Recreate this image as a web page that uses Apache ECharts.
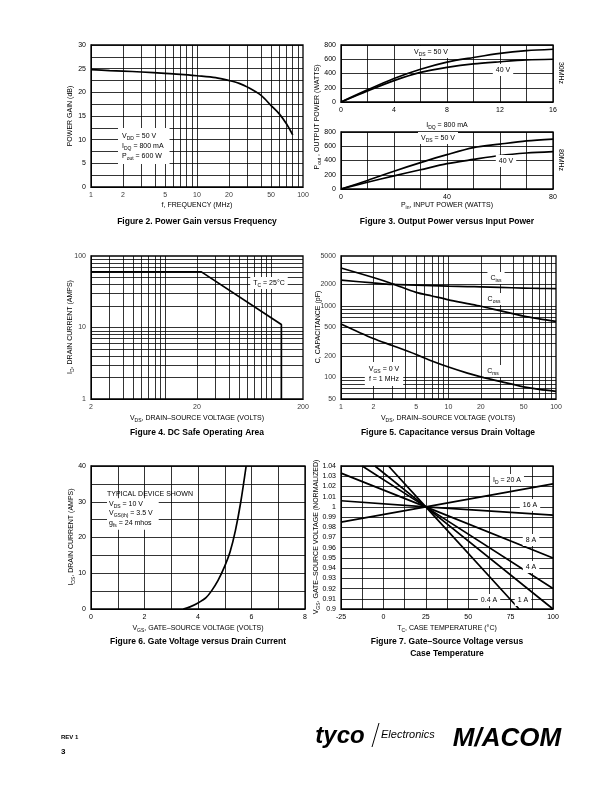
<!DOCTYPE html>
<html><head><meta charset="utf-8">
<script src="https://cdn.jsdelivr.net/npm/echarts@6/dist/echarts.min.js"></script>
<style>html,body{margin:0;padding:0;background:#fff}#c{width:612px;height:792px}</style>
</head><body><div id="c"></div>
<script>
// ---------- DATA ----------
// Figure 2: Power gain vs frequency
const fig2Freq = [1, 1.5, 2, 3, 5, 7, 10, 15, 20, 25, 30, 40, 50, 60, 70, 80];
const fig2Gain = [24.8, 24.6, 24.5, 24.3, 24.0, 23.8, 23.5, 23.1, 22.5, 21.9, 21.1, 19.4, 17.2, 15.4, 13.3, 11.0];
const fig2XLabels = [1, 2, 5, 10, 20, 50, 100];
const fig2XGrid = [2, 3, 4, 5, 6, 7, 8, 9, 10, 20, 30, 40, 50, 60, 70, 80, 90];

// Figure 3: Output power vs input power
const fig3Pin30 = [0, 2, 4, 6, 8, 10, 12, 14, 16];
const fig3Pout30V50 = [0, 170, 330, 460, 560, 625, 683, 720, 740];
const fig3Pout30V40 = [0, 155, 300, 415, 485, 535, 565, 590, 600];
const fig3Pin80 = [0, 10, 20, 30, 40, 50, 60, 70, 80];
const fig3Pout80V50 = [0, 120, 250, 370, 482, 580, 630, 675, 700];
const fig3Pout80V40 = [0, 95, 185, 270, 355, 415, 470, 505, 525];

// Figure 4: DC safe operating area
const fig4Vds = [2, 22, 125, 125];
const fig4Id = [60, 60, 11, 1];
const fig4XLabels = [2, 20, 200];
const fig4YLabels = [1, 10, 100];
const fig4XGrid = [3, 4, 5, 6, 7, 8, 9, 10, 20, 30, 40, 50, 60, 70, 80, 90, 100];
const fig4YGrid = [2, 3, 4, 5, 6, 7, 8, 9, 10, 20, 30, 40, 50, 60, 70, 80, 90];

// Figure 5: Capacitance vs drain voltage
const fig5Vds = [1, 2, 3, 5, 7, 10, 15, 20, 30, 50, 70, 100];
const fig5Ciss = [2300, 2100, 2000, 1960, 1930, 1900, 1870, 1850, 1820, 1780, 1760, 1750];
const fig5Coss = [3400, 2500, 2050, 1550, 1380, 1220, 1080, 990, 860, 720, 660, 610];
const fig5Crss = [560, 350, 280, 210, 170, 140, 115, 102, 88, 74, 68, 64];
const fig5XLabels = [1, 2, 5, 10, 20, 50, 100];
const fig5YLabels = [50, 100, 200, 500, 1000, 2000, 5000];
const fig5XGrid = [2, 3, 4, 5, 6, 7, 8, 9, 10, 20, 30, 40, 50, 60, 70, 80, 90];
const fig5YGrid = [60, 70, 80, 90, 100, 200, 300, 400, 500, 600, 700, 800, 900, 1000, 2000, 3000, 4000];

// Figure 6: Gate voltage vs drain current
const fig6Vgs = [3.45, 3.7, 4.0, 4.3, 4.5, 4.75, 5.0, 5.2, 5.4, 5.6, 5.8];
const fig6Ids = [0, 0.6, 1.7, 3.2, 5, 8, 12, 16, 22, 30, 40];

// Figure 7: Gate-source voltage vs case temperature (normalized)
const fig7Names = ['20 A', '16 A', '8 A', '4 A', '1 A', '0.4 A'];
const fig7Temp = [[-25, 25, 100], [-25, 25, 100], [-25, 25, 100], [-12.5, 25, 100], [-5, 25, 100], [3, 25, 80]];
const fig7Vgs = [[0.985, 1.0, 1.0225], [1.006, 1.0, 0.992], [1.033, 1.0, 0.95], [1.04, 1.0, 0.92], [1.04, 1.0, 0.9], [1.04, 1.0, 0.9]];

// ---------- BUILD ----------
const FONT = "'Liberation Sans Narrow','Liberation Sans',Arial,sans-serif";
const FONTB = "'Liberation Sans',Arial,sans-serif";
const zip = (a, b) => a.map((v, i) => [v, b[i]]);

const grids = [
  {left: 91, top: 45, width: 212, height: 142},
  {left: 341, top: 45, width: 212, height: 57},
  {left: 341, top: 132, width: 212, height: 57},
  {left: 91, top: 256, width: 212, height: 143},
  {left: 341, top: 256, width: 215, height: 143},
  {left: 91, top: 466, width: 214, height: 143},
  {left: 341, top: 466, width: 212, height: 143}
].map(g => Object.assign({show: true, borderColor: '#000', borderWidth: 1.3, backgroundColor: 'transparent', containLabel: false}, g));

const lbl = {fontSize: 7, color: '#000', fontFamily: FONT};
function valAxis(gi, min, max, interval, fmt, extra) {
  return Object.assign({
    type: 'value', gridIndex: gi, min, max, interval,
    axisLine: {show: true, onZero: false, lineStyle: {color: '#000', width: 1}},
    axisTick: {show: false},
    splitLine: {show: true, lineStyle: {color: '#000', width: 0.8}},
    axisLabel: Object.assign({formatter: fmt, margin: 5}, lbl)
  }, extra || {});
}
function logAxis(gi, min, max) {
  return {
    type: 'log', logBase: 10, gridIndex: gi, min, max,
    axisLine: {show: true, onZero: false, lineStyle: {color: '#000', width: 1}},
    axisTick: {show: false}, splitLine: {show: false}, axisLabel: {show: false}
  };
}

const xAxes = [
  logAxis(0, 1, 100),
  valAxis(1, 0, 16, 2, v => (v % 4 === 0 ? v : '')),
  valAxis(2, 0, 80, 10, v => (v % 40 === 0 ? v : '')),
  logAxis(3, 2, 200),
  logAxis(4, 1, 100),
  valAxis(5, 0, 8, 1, v => (v % 2 === 0 ? v : '')),
  valAxis(6, -25, 100, 12.5, v => (Number.isInteger(v) && v % 25 === 0 ? v : ''))
];
const yAxes = [
  valAxis(0, 0, 30, 2.5, v => (v % 5 === 0 ? v : '')),
  valAxis(1, 0, 800, 200, v => v),
  valAxis(2, 0, 800, 200, v => v),
  logAxis(3, 1, 100),
  logAxis(4, 50, 5000),
  valAxis(5, 0, 40, 5, v => (v % 10 === 0 ? v : '')),
  valAxis(6, 0.9, 1.04, 0.01, v => String(parseFloat(v.toFixed(2))))
];

const series = [];
const curveStyle = {color: '#000', width: 1.7};
function curve(gi, data, smooth) {
  series.push({type: 'line', xAxisIndex: gi, yAxisIndex: gi, data, showSymbol: false, symbol: 'none',
    smooth: smooth, lineStyle: curveStyle, itemStyle: {color: '#000'}, silent: true, animation: false, z: 5});
}
function gridLines(gi, xs, ys) {
  const d = [];
  (xs || []).forEach(v => d.push({xAxis: v}));
  (ys || []).forEach(v => d.push({yAxis: v}));
  series.push({type: 'line', xAxisIndex: gi, yAxisIndex: gi, data: [], silent: true, animation: false, z: 1,
    markLine: {silent: true, symbol: ['none', 'none'], animation: false, label: {show: false},
      lineStyle: {color: '#000', width: 0.8, type: 'solid'}, emphasis: {disabled: true}, data: d}});
}
function tickLabels(gi, values, axis, fixed) {
  series.push({type: 'scatter', xAxisIndex: gi, yAxisIndex: gi, symbolSize: 0, silent: true, animation: false, clip: false,
    data: values.map(v => axis === 'x' ? [v, fixed] : [fixed, v]),
    label: Object.assign({show: true, position: axis === 'x' ? 'bottom' : 'left', distance: 5,
      formatter: p => String(axis === 'x' ? p.value[0] : p.value[1])}, lbl)});
}

// Fig 2
gridLines(0, fig2XGrid, null);
tickLabels(0, fig2XLabels, 'x', 0);
curve(0, zip(fig2Freq, fig2Gain), 0.3);
// Fig 3
curve(1, zip(fig3Pin30, fig3Pout30V50), 0.3);
curve(1, zip(fig3Pin30, fig3Pout30V40), 0.3);
curve(2, zip(fig3Pin80, fig3Pout80V50), 0.3);
curve(2, zip(fig3Pin80, fig3Pout80V40), 0.3);
// Fig 4
gridLines(3, fig4XGrid, fig4YGrid);
tickLabels(3, fig4XLabels, 'x', 1);
tickLabels(3, fig4YLabels, 'y', 2);
curve(3, zip(fig4Vds, fig4Id), false);
// Fig 5
gridLines(4, fig5XGrid, fig5YGrid);
tickLabels(4, fig5XLabels, 'x', 50);
tickLabels(4, fig5YLabels, 'y', 1);
curve(4, zip(fig5Vds, fig5Ciss), 0.3);
curve(4, zip(fig5Vds, fig5Coss), 0.3);
curve(4, zip(fig5Vds, fig5Crss), 0.3);
// Fig 6
curve(5, zip(fig6Vgs, fig6Ids), 0.3);
// Fig 7
fig7Names.forEach((n, i) => curve(6, zip(fig7Temp[i], fig7Vgs[i]), false));

// ---------- TEXT ----------
const rich = {s: {fontSize: 5, verticalAlign: 'bottom', lineHeight: 6, fontFamily: FONT}};
function txt(x, y, text, o) {
  o = o || {};
  return {type: 'text', x, y, rotation: o.rot || 0, z: 100, silent: true,
    style: Object.assign({text, rich, fill: '#000', fontFamily: FONT, fontSize: 7, lineHeight: 10,
      align: 'center', verticalAlign: 'middle'}, o.style || {})};
}
const boxed = {backgroundColor: '#fff', padding: [1, 3]};
const cap = {fontFamily: FONTB, fontWeight: 'bold', fontSize: 8.5};
const R = Math.PI / 2;

const graphic = [
  // Fig 2
  txt(70, 116, 'POWER GAIN (dB)', {rot: R}),
  txt(197, 205, 'f, FREQUENCY (MHz)'),
  txt(197, 222, 'Figure 2. Power Gain versus Frequency', {style: cap}),
  txt(118, 146, 'V{s|DD} = 50 V\nI{s|DQ} = 800 mA\nP{s|out} = 600 W', {style: {align: 'left', backgroundColor: '#fff', padding: [3, 6, 3, 4]}}),
  // Fig 3
  txt(317, 117, 'P{s|out} , OUTPUT POWER (WATTS)', {rot: R}),
  txt(447, 205, 'P{s|in}, INPUT POWER (WATTS)'),
  txt(447, 222, 'Figure 3. Output Power versus Input Power', {style: cap}),
  txt(447, 125, 'I{s|DQ} = 800 mA'),
  txt(561, 73, '30MHz', {rot: -R}),
  txt(561, 160, '80MHz', {rot: -R}),
  txt(431, 52, 'V{s|DS} = 50 V', {style: boxed}),
  txt(503, 70, '40 V', {style: boxed}),
  txt(438, 138, 'V{s|DS} = 50 V', {style: boxed}),
  txt(506, 161, '40 V', {style: boxed}),
  // Fig 4
  txt(70, 327, 'I{s|D}, DRAIN CURRENT (AMPS)', {rot: R}),
  txt(197, 418, 'V{s|DS}, DRAIN–SOURCE VOLTAGE (VOLTS)'),
  txt(197, 433, 'Figure 4. DC Safe Operating Area', {style: cap}),
  txt(269, 283, 'T{s|C} = 25°C', {style: boxed}),
  // Fig 5
  txt(318, 327, 'C, CAPACITANCE (pF)', {rot: R}),
  txt(448, 418, 'V{s|DS}, DRAIN–SOURCE VOLTAGE (VOLTS)'),
  txt(448, 433, 'Figure 5. Capacitance versus Drain Voltage', {style: cap}),
  txt(496, 278, 'C{s|iss}', {style: boxed}),
  txt(494, 299, 'C{s|oss}', {style: boxed}),
  txt(493, 371, 'C{s|rss}', {style: boxed}),
  txt(384, 374, 'V{s|GS} = 0 V\nf = 1 MHz', {style: {backgroundColor: '#fff', padding: [2, 4], align: 'center'}}),
  // Fig 6
  txt(71, 537, 'I{s|DS}, DRAIN CURRENT (AMPS)', {rot: R}),
  txt(198, 628, 'V{s|GS}, GATE–SOURCE VOLTAGE (VOLTS)'),
  txt(198, 642, 'Figure 6. Gate Voltage versus Drain Current', {style: cap}),
  txt(107, 514, 'V{s|DS} = 10 V\nV{s|GS(th)} = 3.5 V\ng{s|fs} = 24 mhos', {style: {align: 'left', backgroundColor: '#fff', padding: [1, 6, 2, 2], lineHeight: 9.5}}),
  txt(107, 494, 'TYPICAL DEVICE SHOWN', {style: {align: 'left'}}),
  // Fig 7
  txt(316, 537, 'V{s|GS}, GATE–SOURCE VOLTAGE (NORMALIZED)', {rot: R}),
  txt(447, 628, 'T{s|C}, CASE TEMPERATURE (°C)'),
  txt(447, 642, 'Figure 7. Gate–Source Voltage versus', {style: cap}),
  txt(447, 654, 'Case Temperature', {style: cap}),
  txt(507, 480, 'I{s|D} = 20 A', {style: boxed}),
  txt(530, 505, '16 A', {style: boxed}),
  txt(531, 540, '8 A', {style: boxed}),
  txt(531, 567, '4 A', {style: boxed}),
  txt(489, 600, '0.4 A', {style: boxed}),
  txt(523, 600, '1 A', {style: boxed}),
  // Footer
  txt(61, 737, 'REV 1', {style: {align: 'left', fontFamily: FONTB, fontWeight: 'bold', fontSize: 6}}),
  txt(61, 752, '3', {style: {align: 'left', fontFamily: FONTB, fontWeight: 'bold', fontSize: 8}}),
  txt(340, 736, 'tyco', {style: {fontFamily: FONTB, fontWeight: 'bold', fontStyle: 'italic', fontSize: 24}}),
  {type: 'line', z: 100, silent: true, shape: {x1: 372, y1: 747, x2: 379, y2: 723}, style: {stroke: '#000', lineWidth: 1}},
  txt(381, 735, 'Electronics', {style: {align: 'left', fontFamily: FONTB, fontStyle: 'italic', fontSize: 11}}),
  txt(507, 739, 'M/ACOM', {style: {fontFamily: FONTB, fontWeight: 'bold', fontStyle: 'italic', fontSize: 26}})
];

const chart = echarts.init(document.getElementById('c'), null, {renderer: 'canvas'});
chart.setOption({
  animation: false,
  backgroundColor: '#fff',
  grid: grids,
  xAxis: xAxes,
  yAxis: yAxes,
  series,
  graphic
});
</script></body></html>
